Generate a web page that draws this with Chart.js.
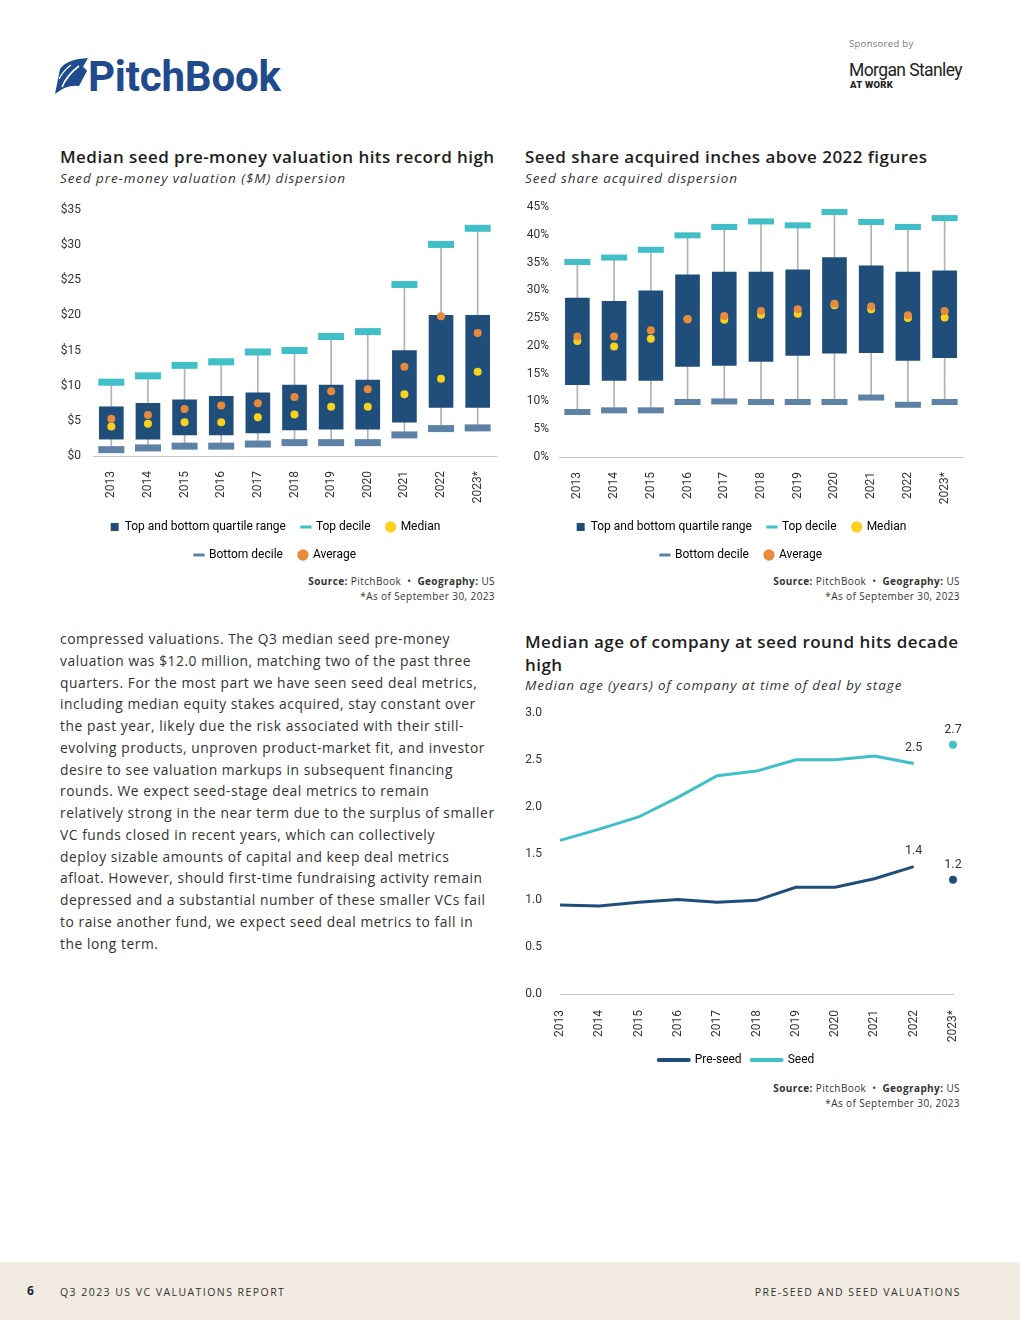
<!DOCTYPE html>
<html>
<head>
<meta charset="utf-8">
<script src="https://cdn.jsdelivr.net/npm/chart.js@4.4.0/dist/chart.umd.min.js"></script>
<style>
  body { margin: 0; width: 1020px; height: 1320px; position: relative; background: #fff; font-family: "Open Sans", Lato, sans-serif; color: #2b2b2b; overflow: hidden; }
  .abs { position: absolute; }
  .title { font-weight: 600; font-size: 17px; line-height: 23px; letter-spacing: 0.45px; color: #1e1e1e; white-space: nowrap; }
  .sub { font-style: italic; font-size: 13.5px; line-height: 18px; letter-spacing: 0.9px; color: #333; white-space: nowrap; }
  .src { font-size: 10px; line-height: 15px; letter-spacing: 0.4px; text-align: right; color: #333; white-space: nowrap; }
  .src b { font-weight: 700; }
  .para { font-size: 13.8px; line-height: 21.75px; letter-spacing: 0.55px; color: #333; white-space: nowrap; }
  .box { position: absolute; }
  .foot { font-size: 10.5px; line-height: 16px; letter-spacing: 1.45px; color: #333; }
</style>
</head>
<body>

<!-- header -->
<svg class="abs" style="left:53px;top:57px" width="36" height="38" viewBox="0 0 36 38">
  <path d="M2 37 L7 12 Q14 2 35 1 L30 10 Q33 12 34 14 L26 29 Q14 27 2 37 Z" fill="#1f4a8c"/>
  <path d="M9 30 Q14 18 26 9" stroke="#fff" stroke-width="1.6" fill="none"/>
  <path d="M6 22 Q10 14 18 8" stroke="#fff" stroke-width="1.2" fill="none"/>
</svg>
<div class="abs" style="left:88px;top:52px;font-family:Roboto,sans-serif;font-weight:700;font-size:42px;line-height:50px;color:#1f4a8c;letter-spacing:-0.2px;">PitchBook</div>
<div class="abs" style="left:849px;top:37px;font-size:9.5px;line-height:14px;color:#777;letter-spacing:0.3px;">Sponsored by</div>
<div class="abs" style="left:849px;top:59px;font-family:Roboto,sans-serif;font-size:17.5px;line-height:22px;color:#222;letter-spacing:-0.6px;">Morgan Stanley</div>
<div class="abs" style="left:850px;top:79px;font-family:Roboto,sans-serif;font-weight:900;font-size:9.5px;line-height:12px;color:#222;letter-spacing:0.3px;">AT WORK</div>

<!-- chart 1 -->
<div class="abs title" style="left:60px;top:145px;">Median seed pre-money valuation hits record high</div>
<div class="abs sub" style="left:60px;top:169px;">Seed pre-money valuation ($M) dispersion</div>
<div class="box" style="left:55px;top:195px;width:450px;height:376px;"><canvas id="chart-1"></canvas></div>
<div class="abs src" style="right:525px;top:574px;"><b>Source:</b> PitchBook &nbsp;•&nbsp; <b>Geography:</b> US<br>*As of September 30, 2023</div>

<!-- chart 2 -->
<div class="abs title" style="left:525px;top:145px;">Seed share acquired inches above 2022 figures</div>
<div class="abs sub" style="left:525px;top:169px;">Seed share acquired dispersion</div>
<div class="box" style="left:520px;top:195px;width:450px;height:376px;"><canvas id="chart-2"></canvas></div>
<div class="abs src" style="right:60px;top:574px;"><b>Source:</b> PitchBook &nbsp;•&nbsp; <b>Geography:</b> US<br>*As of September 30, 2023</div>

<!-- text -->
<div class="abs para" style="left:60px;top:628px;">compressed valuations. The Q3 median seed pre-money<br>valuation was $12.0 million, matching two of the past three<br>quarters. For the most part we have seen seed deal metrics,<br>including median equity stakes acquired, stay constant over<br>the past year, likely due the risk associated with their still-<br>evolving products, unproven product-market fit, and investor<br>desire to see valuation markups in subsequent financing<br>rounds. We expect seed-stage deal metrics to remain<br>relatively strong in the near term due to the surplus of smaller<br>VC funds closed in recent years, which can collectively<br>deploy sizable amounts of capital and keep deal metrics<br>afloat. However, should first-time fundraising activity remain<br>depressed and a substantial number of these smaller VCs fail<br>to raise another fund, we expect seed deal metrics to fall in<br>the long term.</div>

<!-- chart 3 -->
<div class="abs title" style="left:525px;top:630px;">Median age of company at seed round hits decade<br>high</div>
<div class="abs sub" style="left:525px;top:676px;">Median age (years) of company at time of deal by stage</div>
<div class="box" style="left:520px;top:700px;width:450px;height:376px;"><canvas id="chart-3"></canvas></div>
<div class="abs src" style="right:60px;top:1081px;"><b>Source:</b> PitchBook &nbsp;•&nbsp; <b>Geography:</b> US<br>*As of September 30, 2023</div>

<!-- footer -->
<div class="abs" style="left:0;top:1262px;width:1020px;height:58px;background:#f1ebe1;"></div>
<div class="abs" style="left:27px;top:1283px;font-weight:700;font-size:12px;line-height:16px;color:#1d2b44;">6</div>
<div class="abs foot" style="left:60px;top:1284px;">Q3 2023 US VC VALUATIONS REPORT</div>
<div class="abs foot" style="right:59px;top:1284px;">PRE-SEED AND SEED VALUATIONS</div>

<script>
const years = ["2013", "2014", "2015", "2016", "2017", "2018", "2019", "2020", "2021", "2022", "2023*"];

// seed pre-money valuation ($M)
const valBottomDecile = [0.9, 1.15, 1.4, 1.4, 1.7, 1.9, 1.9, 1.9, 3.0, 3.9, 4.0];
const valLowerQuartile = [2.4, 2.4, 3.0, 3.0, 3.3, 3.7, 3.8, 3.8, 4.8, 6.9, 6.9];
const valUpperQuartile = [7.0, 7.5, 8.0, 8.5, 9.0, 10.1, 10.1, 10.8, 15.0, 20.0, 20.0];
const valTopDecile = [10.5, 11.4, 12.9, 13.4, 14.8, 15.0, 17.0, 17.7, 24.4, 30.1, 32.4];
const valMedian = [4.2, 4.6, 4.8, 4.8, 5.5, 5.9, 7.0, 7.0, 8.8, 11.0, 12.0];
const valAverage = [5.3, 5.85, 6.7, 7.2, 7.5, 8.4, 9.2, 9.5, 12.7, 19.9, 17.5];
const valTicks = [0, 5, 10, 15, 20, 25, 30, 35];

// seed share acquired (%)
const shareBottomDecile = [8.1, 8.4, 8.4, 9.9, 10.0, 9.9, 9.9, 9.9, 10.7, 9.4, 9.9];
const shareLowerQuartile = [13.0, 13.8, 13.8, 16.3, 16.5, 17.2, 18.3, 18.7, 18.8, 17.4, 17.9];
const shareUpperQuartile = [28.6, 28.0, 29.9, 32.8, 33.3, 33.3, 33.7, 35.9, 34.4, 33.3, 33.5];
const shareTopDecile = [35.1, 35.9, 37.3, 39.9, 41.4, 42.4, 41.7, 44.1, 42.3, 41.4, 43.0];
const shareMedian = [20.9, 19.9, 21.3, 24.8, 24.7, 25.6, 25.8, 27.3, 26.6, 25.0, 25.1];
const shareAverage = [21.7, 21.7, 22.8, 24.8, 25.4, 26.3, 26.6, 27.6, 27.1, 25.5, 26.3];
const shareTicks = [0, 5, 10, 15, 20, 25, 30, 35, 40, 45];

// median age (years)
const preSeedAge = [0.95, 0.94, 0.98, 1.01, 0.98, 1.0, 1.14, 1.14, 1.23, 1.36, 1.22];
const seedAge = [1.64, 1.76, 1.89, 2.1, 2.33, 2.38, 2.5, 2.5, 2.54, 2.46, 2.66];
const ageTicks = [0, 0.5, 1, 1.5, 2, 2.5, 3];

const navy = "#1f4e7b";
const teal = "#40bfc8";
const slate = "#5e81a6";
const gold = "#f8d21c";
const orange = "#e88a3b";
const whiskerGray = "#b2b2b2";
const axisGray = "#c6c6c6";
const narrow = "Roboto, sans-serif";

Chart.defaults.font.family = narrow;
Chart.defaults.color = "#333";

function legendItems(chart) {
  return chart.data.datasets
    .map((ds, i) => ({
      text: ds.label,
      fillStyle: ds.legendColor,
      strokeStyle: ds.legendColor,
      lineWidth: ds.legendStyle === "line" ? 3 : 0,
      pointStyle: ds.legendStyle,
      hidden: false,
      datasetIndex: i,
    }))
    .filter((item) => item.text);
}

// fixed axis sizes so the plot sits where the reference has it
function fixX(height) {
  return (s) => { s.height = height; s.paddingLeft = 0; s.paddingRight = 0; };
}
function fixY(width) {
  return (s) => { s.width = width; s.paddingTop = 0; s.paddingBottom = 0; };
}

function boxChart(id, p10, q1, q3, p90, median, average, ticks, fmt, axis) {
  return new Chart(document.getElementById(id), {
    type: "bar",
    data: {
      labels: years,
      datasets: [
        {
          label: "",
          data: years.map((y, i) => [p10[i], p90[i]]),
          backgroundColor: whiskerGray,
          barThickness: 1,
          grouped: false,
          order: 6,
        },
        {
          label: "Top and bottom quartile range",
          data: years.map((y, i) => [q1[i], q3[i]]),
          backgroundColor: navy,
          barThickness: 24,
          grouped: false,
          order: 5,
          legendStyle: "rect",
          legendColor: navy,
        },
        {
          type: "line",
          label: "Top decile",
          data: p90,
          showLine: false,
          pointStyle: "line",
          pointRadius: 13,
          pointHoverRadius: 13,
          pointBorderWidth: axis.decile,
          pointHoverBorderWidth: axis.decile,
          borderColor: teal,
          order: 4,
          legendStyle: "line",
          legendColor: teal,
        },
        {
          type: "line",
          label: "Median",
          data: median,
          showLine: false,
          pointStyle: "circle",
          pointRadius: 4,
          pointBorderWidth: 0,
          backgroundColor: gold,
          borderColor: gold,
          order: 2,
          legendStyle: "circle",
          legendColor: gold,
        },
        {
          type: "line",
          label: "Bottom decile",
          data: p10,
          showLine: false,
          pointStyle: "line",
          pointRadius: 13,
          pointHoverRadius: 13,
          pointBorderWidth: axis.decile,
          pointHoverBorderWidth: axis.decile,
          borderColor: slate,
          order: 3,
          legendStyle: "line",
          legendColor: slate,
        },
        {
          type: "line",
          label: "Average",
          data: average,
          showLine: false,
          pointStyle: "circle",
          pointRadius: 4,
          pointBorderWidth: 0,
          backgroundColor: orange,
          borderColor: orange,
          order: 1,
          legendStyle: "circle",
          legendColor: orange,
        },
      ],
    },
    options: {
      animation: false,
      responsive: true,
      maintainAspectRatio: false,
      layout: { autoPadding: false, padding: { top: axis.top, right: axis.right, left: 0, bottom: 0 } },
      plugins: {
        tooltip: { enabled: false },
        legend: {
          position: "bottom",
          labels: {
            usePointStyle: true,
            boxWidth: 8,
            boxHeight: 8,
            padding: 16,
            color: "#333",
            font: { family: narrow, size: 12 },
            generateLabels: legendItems,
          },
        },
      },
      scales: {
        x: {
          grid: { display: false, drawTicks: false },
          border: { display: true, color: axisGray },
          ticks: { minRotation: 90, maxRotation: 90, padding: 15, font: { size: 12 }, color: "#333" },
          afterFit: fixX(axis.xHeight),
        },
        y: {
          min: ticks[0],
          max: ticks[ticks.length - 1],
          afterBuildTicks: (s) => { s.ticks = ticks.map((v) => ({ value: v })); },
          grid: { display: false, drawTicks: false },
          border: { display: false },
          ticks: { callback: fmt, padding: axis.yPad, font: { size: 12 }, color: "#333" },
          afterFit: fixY(axis.yWidth),
        },
      },
    },
  });
}

const chart1 = boxChart(
  "chart-1",
  valBottomDecile, valLowerQuartile, valUpperQuartile, valTopDecile, valMedian, valAverage,
  valTicks, (v) => "$" + v,
  { top: 15, right: 9, xHeight: 49, yWidth: 38, yPad: 12, decile: 7 }
);

const chart2 = boxChart(
  "chart-2",
  shareBottomDecile, shareLowerQuartile, shareUpperQuartile, shareTopDecile, shareMedian, shareAverage,
  shareTicks, (v) => v + "%",
  { top: 12, right: 7, xHeight: 48, yWidth: 39, yPad: 10, decile: 6 }
);

// value labels on the last two points of chart 3
const endLabels = {
  id: "endLabels",
  afterDatasetsDraw(chart) {
    const ctx = chart.ctx;
    ctx.save();
    ctx.font = "12.5px " + narrow;
    ctx.fillStyle = "#333";
    ctx.textAlign = "center";
    ctx.textBaseline = "bottom";
    chart.data.datasets.forEach((ds, di) => {
      const meta = chart.getDatasetMeta(di);
      [9, 10].forEach((i) => {
        const pt = meta.data[i];
        ctx.fillText(ds.data[i].toFixed(1), pt.x, pt.y - 9);
      });
    });
    ctx.restore();
  },
};

const lastPointOnly = (ctx) => (ctx.dataIndex === 10 ? 4 : 0);
const hideLastSegment = (ctx) => (ctx.p1DataIndex === 10 ? "transparent" : undefined);

const chart3 = new Chart(document.getElementById("chart-3"), {
  type: "line",
  data: {
    labels: years,
    datasets: [
      {
        label: "Pre-seed",
        data: preSeedAge,
        borderColor: navy,
        backgroundColor: navy,
        borderWidth: 3,
        pointRadius: lastPointOnly,
        pointHoverRadius: lastPointOnly,
        pointBorderWidth: 0,
        segment: { borderColor: hideLastSegment },
        legendStyle: "line",
        legendColor: navy,
      },
      {
        label: "Seed",
        data: seedAge,
        borderColor: teal,
        backgroundColor: teal,
        borderWidth: 3,
        pointRadius: lastPointOnly,
        pointHoverRadius: lastPointOnly,
        pointBorderWidth: 0,
        segment: { borderColor: hideLastSegment },
        legendStyle: "line",
        legendColor: teal,
      },
    ],
  },
  options: {
    animation: false,
    responsive: true,
    maintainAspectRatio: false,
    layout: { padding: { top: 13, right: 17, left: 0, bottom: 0 } },
    plugins: {
      tooltip: { enabled: false },
      legend: {
        position: "bottom",
        labels: {
          usePointStyle: true,
          pointStyleWidth: 30,
          boxHeight: 8,
          padding: 10,
          color: "#333",
          font: { family: narrow, size: 12 },
          generateLabels: (chart) =>
            legendItems(chart).map((item) => ({ ...item, lineWidth: 4, lineCap: "round" })),
        },
      },
    },
    scales: {
      x: {
        offset: false,
        grid: { display: false, drawTicks: false },
        border: { display: true, color: axisGray },
        ticks: { minRotation: 90, maxRotation: 90, padding: 16, font: { size: 12 }, color: "#333" },
        afterFit: fixX(50),
      },
      y: {
        min: ageTicks[0],
        max: ageTicks[ageTicks.length - 1],
        afterBuildTicks: (s) => { s.ticks = ageTicks.map((v) => ({ value: v })); },
        grid: { display: false, drawTicks: false },
        border: { display: false },
        ticks: { callback: (v) => v.toFixed(1), padding: 18, font: { size: 12 }, color: "#333" },
        afterFit: fixY(40),
      },
    },
  },
  plugins: [endLabels],
});
</script>
</body>
</html>
